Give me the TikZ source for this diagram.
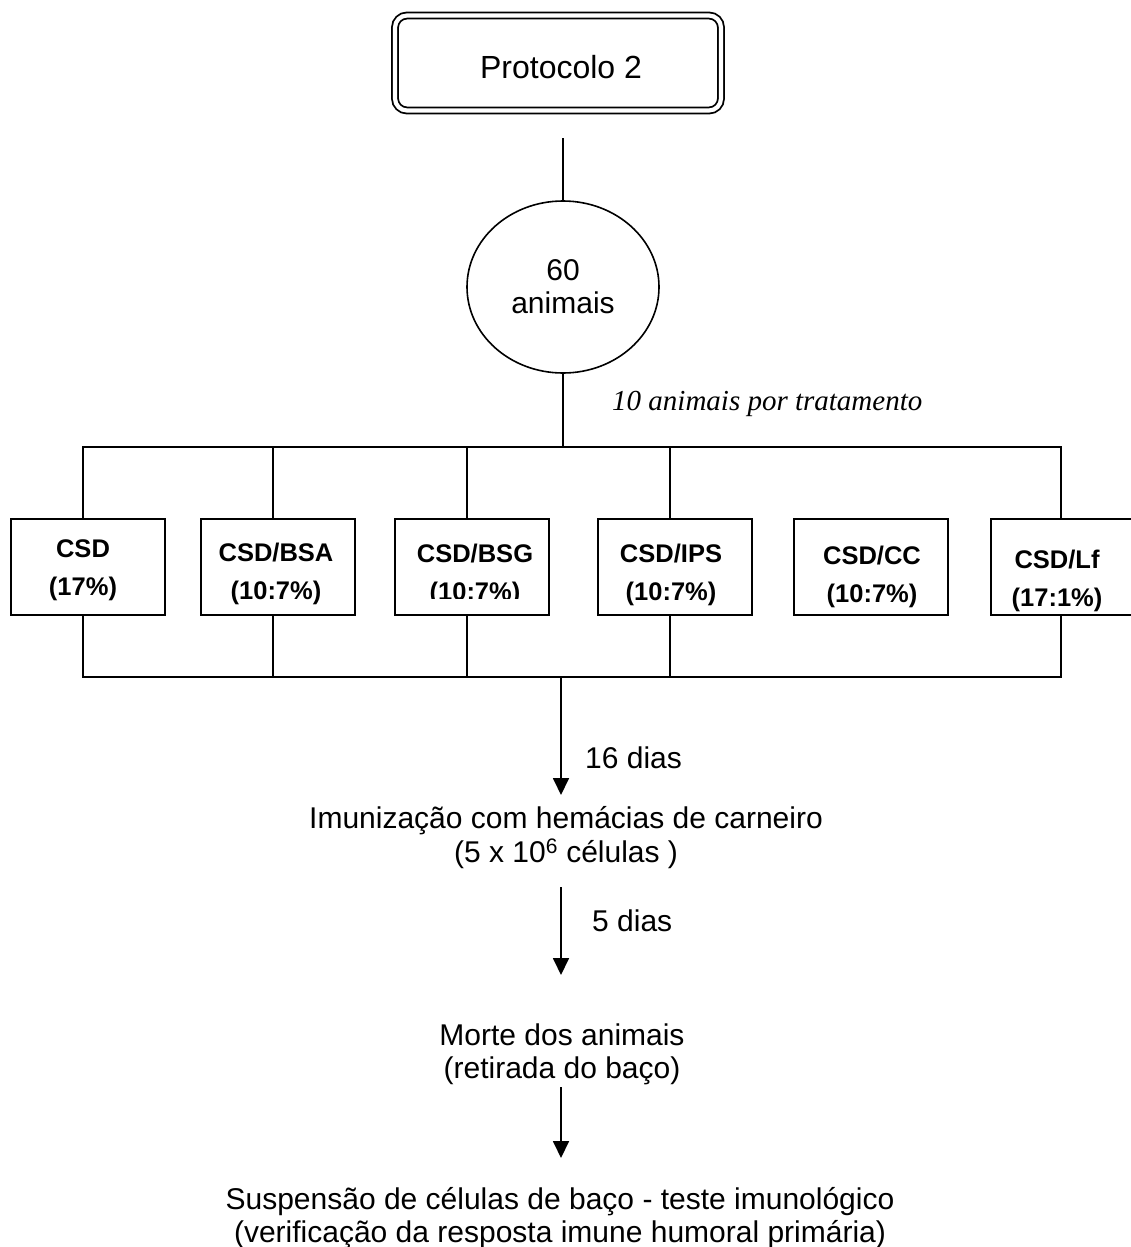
\documentclass[tikz,border=0pt]{standalone}
\usepackage{fontspec}
\setmainfont{Liberation Sans}
\newfontfamily\serifit{Liberation Serif}
\usetikzlibrary{arrows.meta,shapes.geometric,calc}
\begin{document}
\begin{tikzpicture}[x=1pt,y=-1pt,
  ln/.style={line width=1.8pt},
  arr/.style={line width=1.8pt,-{Triangle[width=16pt,length=17pt]}},
  tbox/.style={draw,line width=1.8pt,minimum width=154pt,minimum height=96pt,inner sep=0pt},
  btext/.style={font=\fontsize{25.5}{38}\selectfont\bfseries,align=center,inner sep=0pt},
  bodya/.style={font=\fontsize{30}{34}\selectfont,align=center,inner sep=0pt},
  bodyb/.style={font=\fontsize{30}{33}\selectfont,align=center,inner sep=0pt},
  lbl/.style={font=\fontsize{30}{34}\selectfont,inner sep=0pt,anchor=base west},
]
\useasboundingbox (0,0) rectangle (1131,1247);
\clip (0,0) rectangle (1131,1247);
\fill[white] (0,0) rectangle (1131,1247);

% title box
\node[draw,line width=1.8pt,double=white,double distance=4.2pt,rounded corners=12pt,
      minimum width=326pt,minimum height=95pt,inner sep=0pt] (proto) at (558,63) {};
\node[anchor=base,inner sep=0pt,font=\fontsize{32}{36}\selectfont] (ptitle) at (561,78.5) {Protocolo 2};

% population
\coordinate (pstart) at (563,138);
\node[ellipse,draw,line width=1.6pt,minimum width=192pt,minimum height=172pt,inner sep=0pt,
      font=\fontsize{30}{33}\selectfont,align=center] (pop) at (563,287) {60\\animais};
\draw[ln] (pstart) -- (pop.north);
\coordinate (split) at (563,447);
\draw[ln] (pop.south) -- (split);

\node[anchor=base west,inner sep=0pt,font=\serifit\itshape\fontsize{29}{33}\selectfont] (lab) at (612,410) {10 animais por tratamento};

% treatment boxes
\node[tbox] (b1) at (88,567) {};
\node[tbox] (b2) at (278,567) {};
\node[tbox] (b3) at (472,567) {};
\node[tbox] (b4) at (675,567) {};
\node[tbox] (b5) at (871,567) {};
\node[tbox] (b6) at (1068,567) {};

\node[btext] (t1) at (83,570) {CSD\\(17\%)};
\node[btext] (t2) at (276,574) {CSD/BSA\\(10:7\%)};
\begin{scope}
  \clip (395,519) rectangle (549,598);
  \node[btext] (t3) at (475,575) {CSD/BSG\\(10:7\%)};
\end{scope}
\node[btext] (t4) at (671,575) {CSD/IPS\\(10:7\%)};
\node[btext] (t5) at (872,577) {CSD/CC\\(10:7\%)};
\node[btext] (t6) at (1057,581) {CSD/Lf\\(17:1\%)};

% top bus
\draw[ln] ([xshift=-5pt]b1.north) -- ([xshift=-5pt]b1.north |- split) -| ([xshift=-7pt]b6.north);
\foreach \b in {b2,b3,b4}
  \draw[ln] ([xshift=-5pt]\b.north) -- ([xshift=-5pt]\b.north |- split);

% bottom bus
\coordinate (join) at (561,677);
\draw[ln] ([xshift=-5pt]b1.south) -- ([xshift=-5pt]b1.south |- join) -| ([xshift=-7pt]b6.south);
\foreach \b in {b2,b3,b4}
  \draw[ln] ([xshift=-5pt]\b.south) -- ([xshift=-5pt]\b.south |- join);

% sequence
\node[bodya,anchor=north] (imun) at (566,805.8) {Imunização com hemácias de carneiro\\(5 x 10\textsuperscript{6} células )};
\node[lbl] (d16) at (585,768) {16 dias};
\draw[arr] (join) -- ($(imun.north -| join)+(0,-10.8)$);

\node[bodyb,anchor=north] (morte) at (562,1023.2) {Morte dos animais\\(retirada do baço)};
\node[lbl] (d5) at (592,931) {5 dias};
\draw[arr] ($(imun.south -| join)+(0,18.7)$) -- ($(morte.north -| join)+(0,-48.2)$);

\node[bodyb,anchor=north] (susp) at (560,1186.8) {Suspensão de células de baço - teste imunológico\\(verificação da resposta imune humoral primária)};
\draw[arr] ($(morte.south -| join)+(0,2.7)$) -- ($(susp.north -| join)+(0,-28.8)$);
\end{tikzpicture}
\end{document}
